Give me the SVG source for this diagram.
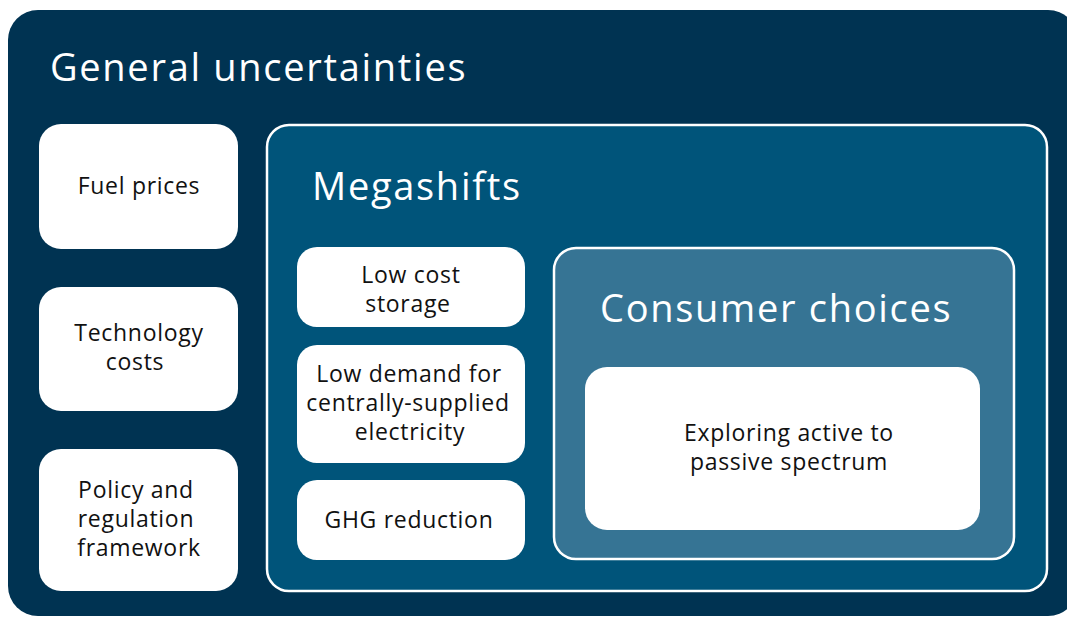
<svg xmlns="http://www.w3.org/2000/svg" width="1067" height="617" viewBox="0 0 1067 617">
<style>
.t{font-family:"Open Sans","Noto Sans",sans-serif;fill:#ffffff;font-size:38px;letter-spacing:1.7px}
.b{font-family:"Open Sans","Noto Sans",sans-serif;fill:#111111;font-size:23px;letter-spacing:0.7px;text-anchor:middle}
.w{fill:#ffffff}
</style>
<rect width="1067" height="617" fill="#ffffff"/>
<g id="general">
<rect x="8" y="10" width="1070" height="606" rx="30" fill="#003352"/>
<text class="t" x="50" y="81">General uncertainties</text>
</g>
<g id="fuel"><rect class="w" x="39" y="124" width="199" height="125" rx="22"/><text class="b" x="139" y="194">Fuel prices</text></g>
<g id="tech"><rect class="w" x="39" y="287" width="199" height="124" rx="22"/><text class="b" x="139" y="341">Technology</text><text class="b" x="135" y="370">costs</text></g>
<g id="policy"><rect class="w" x="39" y="449" width="199" height="142" rx="22"/><text class="b" x="136" y="498">Policy and</text><text class="b" x="136" y="527">regulation</text><text class="b" x="139" y="556">framework</text></g>
<g id="megashifts">
<rect x="267" y="125" width="780" height="466" rx="22" fill="#00547a" stroke="#ffffff" stroke-width="2.5"/>
<text class="t" x="312" y="200">Megashifts</text>
</g>
<g id="storage"><rect class="w" x="297" y="247" width="228" height="80" rx="20"/><text class="b" x="411" y="283">Low cost</text><text class="b" x="408" y="312">storage</text></g>
<g id="demand"><rect class="w" x="297" y="345" width="228" height="118" rx="20"/><text class="b" x="409" y="382">Low demand for</text><text class="b" x="408" y="411">centrally-supplied</text><text class="b" x="410" y="440">electricity</text></g>
<g id="ghg"><rect class="w" x="297" y="480" width="228" height="80" rx="20"/><text class="b" x="409" y="528">GHG reduction</text></g>
<g id="consumer">
<rect x="554" y="248" width="460" height="311" rx="22" fill="#367494" stroke="#ffffff" stroke-width="2.5"/>
<text class="t" x="600" y="322">Consumer choices</text>
</g>
<g id="exploring"><rect class="w" x="585" y="367" width="395" height="163" rx="22"/><text class="b" x="789" y="441">Exploring active to</text><text class="b" x="789" y="470">passive spectrum</text></g>
<g id="connectors"/>
</svg>
